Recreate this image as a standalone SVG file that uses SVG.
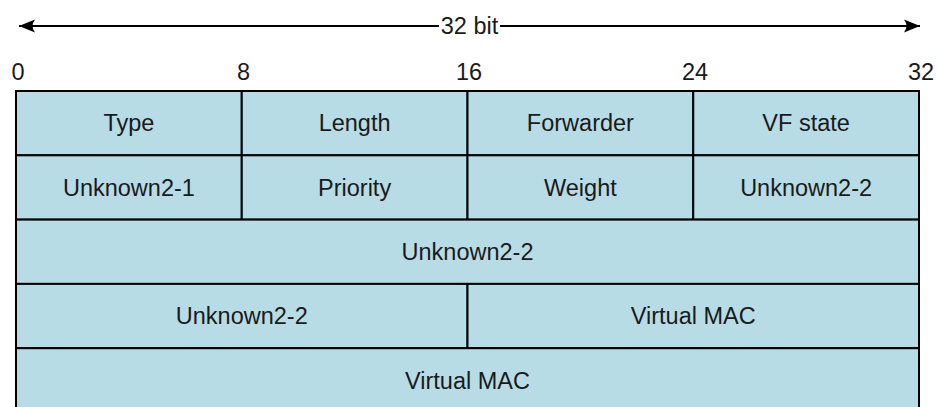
<svg xmlns="http://www.w3.org/2000/svg" width="937" height="407" viewBox="0 0 937 407">
<style>
  .cell { fill: #b7dce6; stroke: #000; stroke-width: 2; }
  .lbl { font-family: "Liberation Sans", Arial, sans-serif; font-size: 23.5px; fill: #1a1a1a; text-anchor: middle; }
  .conn { stroke: #000; stroke-width: 2; fill: none; }
</style>
<defs>
  <marker id="ah" markerWidth="17" markerHeight="14" refX="16" refY="7" orient="auto" markerUnits="userSpaceOnUse">
    <path d="M0,0.5 Q5,7 0,13.5 L16,7 Z" fill="#000"/>
  </marker>
</defs>
<rect width="937" height="407" fill="#fff"/>
<g id="connectors">
  <line class="conn" x1="439" y1="26" x2="19" y2="26" marker-end="url(#ah)"/>
  <line class="conn" x1="500" y1="26" x2="920" y2="26" marker-end="url(#ah)"/>
</g>
<g id="width-label"><text class="lbl" x="469.5" y="34">32 bit</text></g>
<g id="bit-ticks">
  <text class="lbl" x="18" y="80">0</text>
  <text class="lbl" x="243.5" y="80">8</text>
  <text class="lbl" x="469" y="80">16</text>
  <text class="lbl" x="695" y="80">24</text>
  <text class="lbl" x="921" y="80">32</text>
</g>
<g id="row1">
  <g id="type"><rect class="cell" x="16" y="91" width="225.75" height="64.3"/><text class="lbl" x="128.9" y="131">Type</text></g>
  <g id="length"><rect class="cell" x="241.75" y="91" width="225.75" height="64.3"/><text class="lbl" x="354.6" y="131">Length</text></g>
  <g id="forwarder"><rect class="cell" x="467.5" y="91" width="225.75" height="64.3"/><text class="lbl" x="580.4" y="131">Forwarder</text></g>
  <g id="vfstate"><rect class="cell" x="693.25" y="91" width="225.75" height="64.3"/><text class="lbl" x="806.1" y="131">VF state</text></g>
</g>
<g id="row2">
  <g id="unknown2-1"><rect class="cell" x="16" y="155.3" width="225.75" height="64.3"/><text class="lbl" x="128.9" y="195.5">Unknown2-1</text></g>
  <g id="priority"><rect class="cell" x="241.75" y="155.3" width="225.75" height="64.3"/><text class="lbl" x="354.6" y="195.5">Priority</text></g>
  <g id="weight"><rect class="cell" x="467.5" y="155.3" width="225.75" height="64.3"/><text class="lbl" x="580.4" y="195.5">Weight</text></g>
  <g id="unknown2-2a"><rect class="cell" x="693.25" y="155.3" width="225.75" height="64.3"/><text class="lbl" x="806.1" y="195.5">Unknown2-2</text></g>
</g>
<g id="row3">
  <g id="unknown2-2b"><rect class="cell" x="16" y="219.6" width="903" height="64.3"/><text class="lbl" x="467.5" y="260">Unknown2-2</text></g>
</g>
<g id="row4">
  <g id="unknown2-2c"><rect class="cell" x="16" y="283.9" width="451.5" height="64.3"/><text class="lbl" x="241.75" y="324.3">Unknown2-2</text></g>
  <g id="vmac1"><rect class="cell" x="467.5" y="283.9" width="451.5" height="64.3"/><text class="lbl" x="693.25" y="324.3">Virtual MAC</text></g>
</g>
<g id="row5">
  <g id="vmac2"><rect class="cell" x="16" y="348.2" width="903" height="64.3"/><text class="lbl" x="467.5" y="388.6">Virtual MAC</text></g>
</g>
</svg>
